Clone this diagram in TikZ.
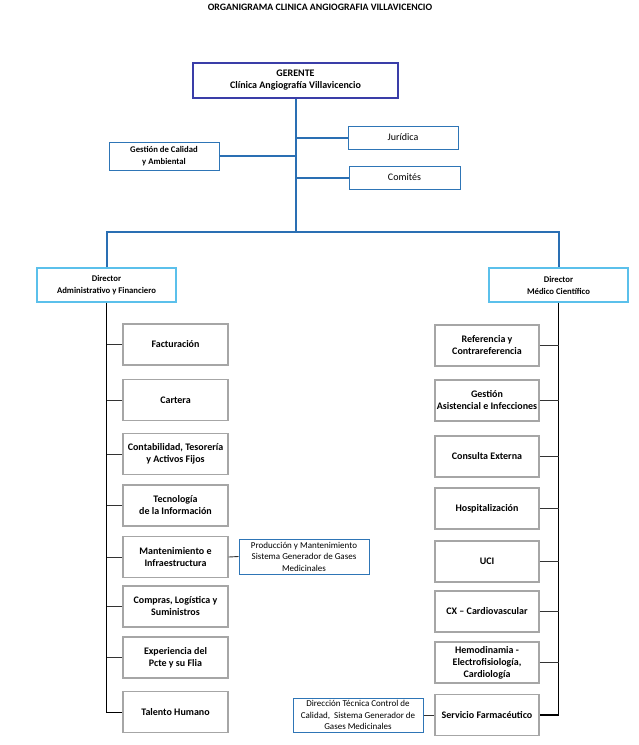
\documentclass[tikz,border=0pt]{standalone}
\usepackage{fontspec}
\setmainfont{Carlito}
\definecolor{gerblue}{HTML}{3A3DA8}
\definecolor{midblue}{HTML}{2E75B6}
\definecolor{lightblue}{HTML}{5BC0EB}
\definecolor{boxgray}{HTML}{A6A6A6}
\definecolor{trunkblue}{HTML}{2A6FB3}
\begin{document}
\begin{tikzpicture}[x=1pt,y=-1pt,
  sz/.style 2 args={minimum width=#1, minimum height=#2},
  base/.style={rectangle, fill=white, align=center, inner sep=0pt},
  gbox/.style={base, draw=boxgray, line width=1.3pt, font=\fontsize{10}{12}\selectfont\bfseries, sz={105pt}{41pt}},
  rbox/.style={gbox, sz={104pt}{41pt}},
  bbox/.style={base, draw=midblue, line width=1pt, font=\fontsize{9}{11.5}\selectfont},
  dirbox/.style={base, draw=lightblue, line width=1.3pt, font=\fontsize{8.7}{12}\selectfont\bfseries, sz={139pt}{34pt}},
  gerbox/.style={base, draw=gerblue, line width=1.2pt, font=\fontsize{10}{12}\selectfont\bfseries, sz={205pt}{35pt}},
  trunk/.style={draw=trunkblue, line width=2pt},
  lspine/.style={draw=black, line width=1pt},
  rspine/.style={draw=black, line width=1.8pt},
  branch/.style={draw=black!80, line width=0.9pt},
  bconn/.style={draw=black!80, line width=0.9pt}
]
\useasboundingbox (0,0) rectangle (639,745);
\fill[white] (0,0) rectangle (639,745);

\node[font=\fontsize{9.8}{11}\selectfont\bfseries] (title) at (320,7) {ORGANIGRAMA CLINICA ANGIOGRAFIA VILLAVICENCIO};

% top level
\node[gerbox] (ger) at (295.5,80.5) {GERENTE\\Clínica Angiografía Villavicencio};
\coordinate (bar) at (295.5,232);
\node[bbox, sz={110pt}{23pt}, font=\fontsize{10}{12}\selectfont] (jur) at (403,137.5) {Jurídica};
\node[bbox, sz={111pt}{23pt}, font=\fontsize{10}{12}\selectfont] (com) at (404.5,177.5) {Comités};
\node[bbox, sz={110pt}{28pt}, font=\fontsize{8.7}{11.5}\selectfont\bfseries] (gca) at (164,156) {Gestión de Calidad\\y Ambiental};

\node[dirbox] (dira) at (106.5,285) {Director\\Administrativo y Financiero};
\node[dirbox] (dirm) at (558.5,285) {Director\\Médico Científico};

\draw[trunk] (ger.south) -- (bar);
\draw[trunk] (dira.north) |- (bar) -| (dirm.north);
\draw[trunk] (jur.west) -- (jur.west -| ger.south);
\draw[trunk] (com.west) -- (com.west -| ger.south);
\draw[trunk] (gca.east) -- (gca.east -| ger.south);

% left column
\node[gbox] (fac) at (175.5,344.5) {Facturación};
\node[gbox] (car) at (175.5,400) {Cartera};
\node[gbox] (con) at (175.5,454) {Contabilidad, Tesorería\\y Activos Fijos};
\node[gbox] (tec) at (175.5,505.5) {Tecnología\\de la Información};
\node[gbox] (man) at (175.5,557) {Mantenimiento e\\Infraestructura};
\node[gbox] (com2) at (175.5,606.5) {Compras, Logística y\\Suministros};
\node[gbox] (exp) at (175.5,657.5) {Experiencia del\\Pcte y su Flia};
\node[gbox] (tal) at (175.5,712) {Talento Humano};
\node[bbox, sz={130pt}{35pt}] (prod) at (304,556.5) {Producción y Mantenimiento\\Sistema Generador de Gases\\Medicinales};

\draw[lspine] (dira.south) |- (tal.west);
\foreach \n in {fac,car,con,tec,man,com2,exp}
  \draw[branch] (\n.west) -- (\n.west -| dira.south);
\draw[bconn] (man.east) -- (prod.west);

% right column
\node[rbox] (ref) at (487,345.5) {Referencia y\\Contrareferencia};
\node[rbox] (gas) at (487,400.5) {Gestión\\Asistencial e Infecciones};
\node[rbox] (cex) at (487,456.5) {Consulta Externa};
\node[rbox] (hos) at (487,508.5) {Hospitalización};
\node[rbox] (uci) at (487,561.5) {UCI};
\node[rbox] (cx) at (487,611.5) {CX – Cardiovascular};
\node[rbox] (hem) at (487,662.5) {Hemodinamia -\\Electrofisiología,\\Cardiología};
\node[rbox] (ser) at (487,715) {Servicio Farmacéutico};
\node[bbox, sz={130pt}{34pt}] (dtc) at (358,715) {Dirección Técnica Control de\\Calidad,\ \ Sistema Generador de\\Gases Medicinales};

\draw[rspine] (dirm.south) |- (ser.east);
\foreach \n in {ref,gas,cex,hos,uci,cx,hem}
  \draw[branch] (\n.east) -- (\n.east -| dirm.south);
\draw[bconn] (dtc.east) -- (ser.west);
\end{tikzpicture}
\end{document}
